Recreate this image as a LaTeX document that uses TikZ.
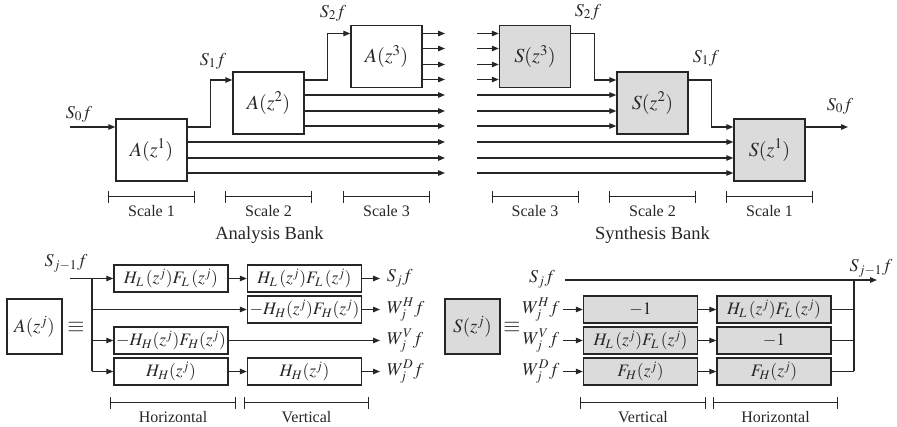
\documentclass[tikz,border=0pt]{standalone}
\usepackage{mathptmx}
\usepackage{fontspec}
\setmainfont{Liberation Serif}
\usetikzlibrary{arrows.meta}
\definecolor{ink}{gray}{0.15}
\definecolor{shade}{gray}{0.86}

\begin{document}
\begin{tikzpicture}[x=1pt, y=-1pt, line width=1.2pt, color=ink,
  bank/.style={draw, line width=1.4pt, minimum width=71pt, minimum height=62pt,
    inner sep=0pt, font=\fontsize{20}{22}\selectfont},
  filt/.style={draw, line width=1.4pt, minimum width=114pt, minimum height=27pt,
    inner sep=0pt, font=\fontsize{17.5}{19}\selectfont},
  op/.style={draw, line width=1.4pt, minimum size=55pt, inner sep=0pt,
    font=\fontsize{19}{21}\selectfont},
  lbl/.style={font=\fontsize{18}{20}\selectfont},
  scalelbl/.style={font=\fontsize{16}{18}\selectfont},
  tip/.style={-{Triangle[length=7pt,width=5.5pt]}},
  span/.style={{Bar[width=12pt]}-{Bar[width=12pt]}, line width=1pt}]
  \useasboundingbox (0,0) rectangle (897,427);

  % analysis bank
  \node[bank] (A1) at (151.5,150) {$A(z^1)$};
  \node[bank] (A2) at (268.5,103) {$A(z^2)$};
  \node[bank] (A3) at (386.5,56.5) {$A(z^3)$};
  \coordinate (a0) at (70,127);
  \coordinate (aend) at (445,0);
  \draw[tip] (a0) -- (a0 -| A1.west);
  \draw[tip] ([yshift=23pt]A1.east) -- ++(23,0) |- ([yshift=23pt]A2.west);
  \draw[tip] ([yshift=23pt]A2.east) -- ++(23,0) |- ([yshift=23pt]A3.west);
  \foreach \b/\dys in {A1/{8,-8,-23}, A2/{8,-8,-23}, A3/{23,8,-8,-23}}
    \foreach \dy in \dys
      \draw[tip] ([yshift=\dy pt]\b.east) coordinate (p) -- (p -| aend);
  \node[lbl] (a0l) at (79,114) {$S_0f$};
  \node[lbl] (a1l) at (213,61) {$S_1f$};
  \node[lbl] (a2l) at (333,13) {$S_2f$};

  % synthesis bank
  \node[bank, fill=shade] (S3) at (535,56.5) {$S(z^3)$};
  \node[bank, fill=shade] (S2) at (652.5,103) {$S(z^2)$};
  \node[bank, fill=shade] (S1) at (769.5,150) {$S(z^1)$};
  \coordinate (sbeg) at (477,0);
  \coordinate (s0) at (848,127);
  \foreach \b/\dys in {S3/{23,8,-8,-23}, S2/{8,-8,-23}, S1/{8,-8,-23}}
    \foreach \dy in \dys {
      \path ([yshift=\dy pt]\b.west) coordinate (q);
      \draw[tip] (q -| sbeg) -- (q);
    }
  \draw[tip] ([yshift=23pt]S3.east) -- ++(23,0) |- ([yshift=23pt]S2.west);
  \draw[tip] ([yshift=23pt]S2.east) -- ++(23,0) |- ([yshift=23pt]S1.west);
  \draw[tip] ([yshift=23pt]S1.east) -- (s0);
  \node[lbl] (s2l) at (588,12) {$S_2f$};
  \node[lbl] (s1l) at (706,58) {$S_1f$};
  \node[lbl] (s0l) at (840,106) {$S_0f$};

  % scale bars
  \coordinate (bar) at (0,197);
  \foreach \b/\t in {A1/1, A2/2, A3/3, S1/1, S2/2, S3/3}
    \draw[span] (\b |- bar) ++(-43.5,0) -- ++(87,0)
      node[midway, scalelbl, yshift=-14.5pt] (sc\b) {Scale \t};
  \node[font=\fontsize{18.5}{20}\selectfont] (abank) at (269.5,235) {Analysis Bank};
  \node[font=\fontsize{18.5}{20}\selectfont] (sbank) at (652.5,235) {Synthesis Bank};

  % A(z^j)
  \node[op] (Aj) at (34.5,326.5) {$A(z^j)$};
  \node[font=\fontsize{22}{24}\selectfont] (eqA) at (76,327) {$\equiv$};
  \node[filt] (H1) at (171,278.5) {$H_L\,(z^j)F_L\,(z^j)$};
  \node[filt] (H2) at (304.5,278.5) {$H_L\,(z^j)F_L\,(z^j)$};
  \node[filt] (H3) at (304.5,309.5) {$-H_H(z^j)F_H(z^j)$};
  \node[filt] (H4) at (171,340.5) {$-H_H(z^j)F_H(z^j)$};
  \node[filt] (H5) at (171,371.5) {$H_H(z^j)$};
  \node[filt] (H6) at (304.5,371.5) {$H_H(z^j)$};
  \coordinate (in) at (70,278.5);
  \coordinate (J) at (92,278.5);
  \coordinate (wend) at (380,0);
  \node[lbl] (sj1) at (66,263) {$S_{j-1}f$};
  \draw[tip] (in) -- (H1);
  \draw (J) -- (J |- H5);
  \foreach \h in {H3,H4,H5}
    \draw[tip] (J |- \h) -- (\h);
  \draw[tip] (H1) -- (H2);
  \draw[tip] (H5) -- (H6);
  \draw[tip] (H2) -- (H2 -| wend) node[lbl, right=3pt] (oS) {$S_jf$};
  \draw[tip] (H3) -- (H3 -| wend) node[lbl, right=3pt] (oH) {$W_j^Hf$};
  \draw[tip] (H4) -- (H4 -| wend) node[lbl, right=3pt] (oV) {$W_j^Vf$};
  \draw[tip] (H6) -- (H6 -| wend) node[lbl, right=3pt] (oD) {$W_j^Df$};
  \coordinate (bb) at (0,403);
  \draw[span] (H1 |- bb) ++(-61,0) -- ++(126,0)
    node[midway, scalelbl, yshift=-14.5pt] (hz) {Horizontal};
  \draw[span] (H2 |- bb) ++(-60.5,0) -- ++(125,0)
    node[midway, scalelbl, yshift=-14.5pt] (vt) {Vertical};

  % S(z^j)
  \node[op, fill=shade] (Sj) at (472.5,326.5) {$S(z^j)$};
  \node[font=\fontsize{22}{24}\selectfont] (eqS) at (512,327) {$\equiv$};
  \node[filt, fill=shade] (G1) at (640.5,309.5) {$-1$};
  \node[filt, fill=shade] (G2) at (774,309.5) {$H_L\,(z^j)F_L\,(z^j)$};
  \node[filt, fill=shade] (G3) at (640.5,340.5) {$H_L\,(z^j)F_L\,(z^j)$};
  \node[filt, fill=shade] (G4) at (774,340.5) {$-1$};
  \node[filt, fill=shade] (G5) at (640.5,371.5) {$F_H(z^j)$};
  \node[filt, fill=shade] (G6) at (774,371.5) {$F_H(z^j)$};
  \coordinate (wbeg) at (563,0);
  \coordinate (sjb) at (565,280);
  \coordinate (sje) at (877,280);
  \coordinate (K) at (854,280);
  \node[lbl] (ij) at (542,279) {$S_jf$};
  \node[lbl] (iH) at (541,309.5) {$W_j^Hf$};
  \node[lbl] (iV) at (541,340.5) {$W_j^Vf$};
  \node[lbl] (iD) at (541,371.5) {$W_j^Df$};
  \node[lbl] (sjo) at (871,268) {$S_{j-1}f$};
  \draw[tip] (sjb) -- (sje);
  \foreach \g in {G1,G3,G5}
    \draw[tip] (\g -| wbeg) -- (\g);
  \draw[tip] (G1) -- (G2);
  \draw[tip] (G3) -- (G4);
  \draw[tip] (G5) -- (G6);
  \foreach \g in {G2,G4,G6}
    \draw (\g) -- (\g -| K);
  \draw (K) -- (K |- G6);
  \draw[span] (G1 |- bb) ++(-60.5,0) -- ++(126,0)
    node[midway, scalelbl, yshift=-14.5pt] (vt2) {Vertical};
  \draw[span] (G2 |- bb) ++(-61,0) -- ++(125,0)
    node[midway, scalelbl, yshift=-14.5pt] (hz2) {Horizontal};
\end{tikzpicture}
\end{document}
